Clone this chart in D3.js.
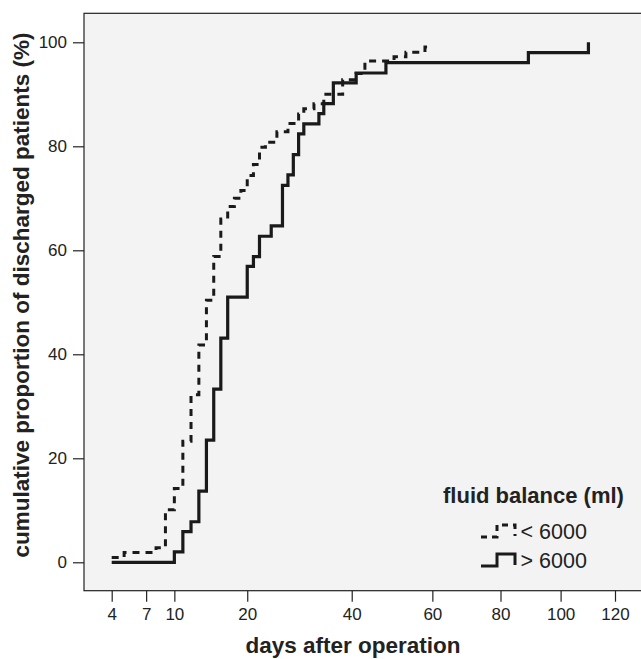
<!DOCTYPE html>
<html>
<head>
<meta charset="utf-8">
<script src="https://cdn.jsdelivr.net/npm/d3@7"></script>
<style>
  body { margin: 0; background: #fff; }
  svg { display: block; font-family: "Liberation Sans", Arial, sans-serif; }
</style>
</head>
<body>
<div id="graph"></div>
<script>
// discharge steps, group "< 6000"
const lowDays = [4, 5, 8, 9, 10, 11, 12, 13, 14, 15, 16, 17, 18, 19, 20, 21, 22, 23, 25, 27, 29, 30, 32, 34, 38, 41, 43, 50, 53, 58, 60];
const lowPct  = [0.9, 1.9, 2.8, 10.1, 14.2, 23.3, 32.2, 41.8, 50.4, 58.8, 66.0, 68.4, 70.0, 71.5, 74.4, 76.5, 79.8, 80.8, 82.8, 84.4, 86.2, 87.2, 88.2, 90.0, 92.8, 94.0, 96.4, 97.2, 98.1, 99.1, 99.1];

// discharge steps, group "> 6000"
const highDays = [4, 10, 11, 12, 13, 14, 15, 16, 17, 20, 21, 22, 24, 26, 27, 28, 29, 30, 33, 34, 36, 41, 48, 89, 110];
const highPct  = [0, 2.0, 5.9, 7.8, 13.7, 23.5, 33.3, 43.1, 51.0, 56.9, 58.8, 62.7, 64.7, 72.5, 74.5, 78.4, 82.4, 84.3, 86.3, 88.2, 92.2, 94.1, 96.1, 98.0, 100];

const xTicks = [4, 7, 10, 20, 40, 60, 80, 100, 120];
const yTicks = [0, 20, 40, 60, 80, 100];
const legendLabels = ["< 6000", "> 6000"];

const width = 641;
const height = 659;
const frameLeft = 84;
const frameTop = 13.3;
const frameBottom = 590.7;
const shift = 0.8; // axis is roughly sqrt(days + 0.8)

const ink = "#1a1a1a";

const xScale = d3.scaleSqrt()
                 .domain([4 + shift, 120 + shift])
                 .range([111.7, 615]);
const x = d => xScale(d + shift);

const yScale = d3.scaleLinear()
                 .domain([0, 100])
                 .range([562.3, 42.3]);

const svg = d3.select("#graph")
              .append("svg")
              .attr("width", width)
              .attr("height", height);

//plot frame
svg.append("rect")
   .attr("x", frameLeft)
   .attr("y", frameTop)
   .attr("width", width + 20 - frameLeft)
   .attr("height", frameBottom - frameTop)
   .attr("fill", "#f3f3f3")
   .attr("stroke", "#222")
   .attr("stroke-width", 1.2);

//x-axis
const xAxis = d3.axisBottom(xScale)
                .tickValues(xTicks.map(t => t + shift))
                .tickFormat(d => Math.round(d - shift))
                .tickSize(11)
                .tickPadding(6)
                .tickSizeOuter(0);

svg.append("g")
   .attr("transform", `translate(0, ${frameBottom})`)
   .call(xAxis)
   .call(g => g.select(".domain").remove())
   .call(g => g.selectAll("line").attr("stroke", "#222").attr("stroke-width", 1.2))
   .call(g => g.selectAll("text").attr("font-size", 17).attr("fill", "#222")
                .attr("font-family", "Liberation Sans, Arial, sans-serif"));

//y-axis
const yAxis = d3.axisLeft(yScale)
                .tickValues(yTicks)
                .tickSize(11)
                .tickPadding(6)
                .tickSizeOuter(0);

svg.append("g")
   .attr("transform", `translate(${frameLeft}, 0)`)
   .call(yAxis)
   .call(g => g.select(".domain").remove())
   .call(g => g.selectAll("line").attr("stroke", "#222").attr("stroke-width", 1.2))
   .call(g => g.selectAll("text").attr("font-size", 17).attr("fill", "#222")
                .attr("font-family", "Liberation Sans, Arial, sans-serif"));

//axis titles
svg.append("text")
   .attr("x", 353)
   .attr("y", 653)
   .attr("text-anchor", "middle")
   .attr("font-size", 22.5)
   .attr("font-weight", "bold")
   .attr("fill", "#222")
   .text("days after operation");

svg.append("text")
   .attr("transform", "translate(29, 295) rotate(-90)")
   .attr("text-anchor", "middle")
   .attr("font-size", 22.5)
   .attr("font-weight", "bold")
   .attr("fill", "#222")
   .text("cumulative proportion of discharged patients (%)");

//curves
const step = d3.line()
               .x(d => x(d[0]))
               .y(d => yScale(d[1]))
               .curve(d3.curveStepAfter);

const lowData = lowDays.map((d, i) => [d, lowPct[i]]);
const highData = highDays.map((d, i) => [d, highPct[i]]);

svg.append("path")
   .attr("d", step(highData))
   .attr("fill", "none")
   .attr("stroke", ink)
   .attr("stroke-width", 3.2);

svg.append("path")
   .attr("d", step(lowData))
   .attr("fill", "none")
   .attr("stroke", ink)
   .attr("stroke-width", 3)
   .attr("stroke-dasharray", "7,6");

//legend
svg.append("text")
   .attr("x", 443)
   .attr("y", 503)
   .attr("font-size", 22)
   .attr("font-weight", "bold")
   .attr("fill", "#222")
   .text("fluid balance (ml)");

const legendRows = [
  { label: legendLabels[0], y: 537, dash: "6,5" },
  { label: legendLabels[1], y: 566, dash: null }
];

const glyph = y => `M481,${y} H497 V${y - 12} H515 V${y - 1}`;

legendRows.forEach(r => {
  svg.append("path")
     .attr("d", glyph(r.y))
     .attr("fill", "none")
     .attr("stroke", ink)
     .attr("stroke-width", 3)
     .attr("stroke-dasharray", r.dash);
  svg.append("text")
     .attr("x", 520.5)
     .attr("y", r.y + 2)
     .attr("font-size", 21.5)
     .attr("fill", "#222")
     .text(r.label);
});
</script>
</body>
</html>
